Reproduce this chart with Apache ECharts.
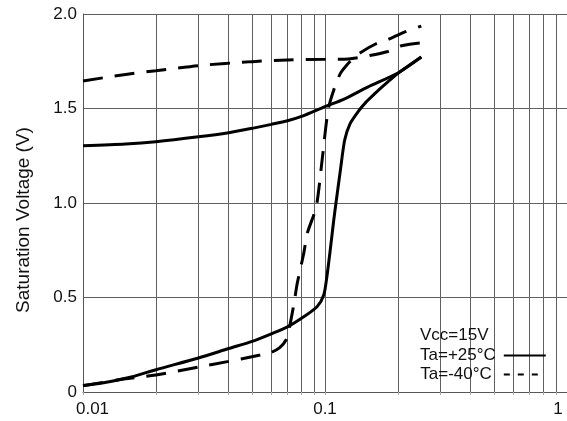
<!DOCTYPE html>
<html>
<head>
<meta charset="utf-8">
<script src="https://cdn.jsdelivr.net/npm/echarts@6/dist/echarts.min.js"></script>
<style>
html, body { margin: 0; padding: 0; background: #fff; }
#main { width: 567px; height: 421px; }
</style>
</head>
<body>
<div id="main"></div>
<script>
// curves: [current (A), saturation voltage (V)]
var warmUpper = [[0.01,1.303],[0.015,1.312],[0.02,1.324],[0.03,1.35],[0.04,1.372],[0.05,1.395],[0.06,1.416],[0.07,1.435],[0.08,1.458],[0.1,1.51],[0.12,1.55],[0.15,1.613],[0.2,1.688],[0.25,1.772]];
var warmLower = [[0.01,0.035],[0.012,0.048],[0.016,0.081],[0.02,0.118],[0.03,0.18],[0.04,0.23],[0.05,0.268],[0.06,0.308],[0.07,0.345],[0.08,0.39],[0.0927,0.451],[0.0988,0.513],[0.1018,0.61],[0.1051,0.751],[0.1087,0.91],[0.111,1.0],[0.1158,1.175],[0.1206,1.333],[0.127,1.42],[0.137,1.483],[0.148,1.535],[0.161,1.58],[0.175,1.622],[0.19,1.662],[0.205,1.695],[0.25,1.772]];
var coldUpper = [[0.01,1.646],[0.015,1.68],[0.02,1.70],[0.03,1.727],[0.05,1.748],[0.07,1.757],[0.1,1.76],[0.125,1.762],[0.153,1.78],[0.18,1.80],[0.207,1.832],[0.25,1.848]];
var coldLower = [[0.01,0.033],[0.0138,0.063],[0.02,0.09],[0.03,0.132],[0.04,0.162],[0.045,0.175],[0.054,0.196],[0.06,0.21],[0.065,0.235],[0.069,0.275],[0.071,0.33],[0.0745,0.47],[0.0768,0.575],[0.0817,0.734],[0.0845,0.84],[0.092,0.98],[0.0973,1.228],[0.103,1.492],[0.1087,1.598],[0.1158,1.686],[0.125,1.74],[0.132,1.77],[0.14,1.795],[0.161,1.84],[0.186,1.87],[0.214,1.905],[0.25,1.936]];

var xGridValues = [0.01,0.02,0.03,0.04,0.05,0.06,0.07,0.08,0.09,0.1,0.2,0.3,0.4,0.5,0.6,0.7,0.8,0.9,1];
var xLabelValues = [0.01, 0.1, 1];
var legendNames = ['Ta=+25°C', 'Ta=-40°C'];
var noteText = 'Vcc=15V';
var yTitle = 'Saturation Voltage (V)';

var font = 'Liberation Sans, Arial, sans-serif';
var myChart = echarts.init(document.getElementById('main'));

function curve(name, data, dashed) {
    return {
        name: name,
        type: 'line',
        data: data,
        symbol: 'none',
        smooth: 0.25,
        lineStyle: { color: '#000', width: 3, type: dashed ? [20, 12] : 'solid' },
        itemStyle: { color: '#000' }
    };
}

var option = {
    animation: false,
    backgroundColor: '#fff',
    title: {
        text: noteText,
        left: 420, top: 327, padding: 0,
        textStyle: { fontFamily: font, fontSize: 17, fontWeight: 'normal', color: '#111' }
    },
    legend: {
        orient: 'vertical',
        left: 420, top: 347, padding: 0,
        itemGap: 2, itemWidth: 42, itemHeight: 14,
        align: 'right',
        selectedMode: false,
        textStyle: { fontFamily: font, fontSize: 17, color: '#111', padding: [0, 3, 0, 0] },
        data: [
            { name: legendNames[0], lineStyle: { width: 2, type: 'solid' }, itemStyle: { opacity: 0 } },
            { name: legendNames[1], lineStyle: { width: 2, type: [6, 8] }, itemStyle: { opacity: 0 },
              textStyle: { padding: [0, 7, 0, 0] } }
        ]
    },
    grid: { left: 83, top: 14, right: -1, bottom: 29 },
    xAxis: {
        type: 'log', logBase: 10, min: 0.01, max: 1,
        axisLine: { show: true, lineStyle: { color: '#555', width: 1 } },
        axisTick: { show: true, length: 3, customValues: xGridValues, lineStyle: { color: '#aaa' } },
        splitLine: { show: true, lineStyle: { color: '#606060', width: 1 } },
        axisLabel: {
            customValues: xLabelValues,
            margin: 9,
            fontFamily: font, fontSize: 17, color: '#111',
            formatter: function (v) {
                if (v < 0.05) return '{a|0.01}';
                if (v > 0.5) return '{b|1}';
                return '0.1';
            },
            rich: {
                a: { fontFamily: font, fontSize: 17, color: '#111', padding: [0, 0, 0, 19] },
                b: { fontFamily: font, fontSize: 17, color: '#111', padding: [0, 18, 0, 0] }
            }
        }
    },
    yAxis: {
        type: 'value', min: 0, max: 2, interval: 0.5,
        name: yTitle,
        nameLocation: 'middle',
        nameGap: 50,
        nameTextStyle: { fontFamily: font, fontSize: 19, color: '#111', padding: [0, 34, 0, 0] },
        axisLine: { show: true, lineStyle: { color: '#555', width: 1 } },
        axisTick: { show: false },
        splitLine: { show: true, lineStyle: { color: '#606060', width: 1 } },
        axisLabel: {
            margin: 6,
            fontFamily: font, fontSize: 17, color: '#111',
            formatter: function (v) { return v === 0 ? '0' : v.toFixed(1); }
        }
    },
    series: [
        curve(legendNames[0], warmUpper, false),
        curve(legendNames[0], warmLower, false),
        curve(legendNames[1], coldUpper, true),
        curve(legendNames[1], coldLower, true)
    ]
};

myChart.setOption(option);
</script>
</body>
</html>
